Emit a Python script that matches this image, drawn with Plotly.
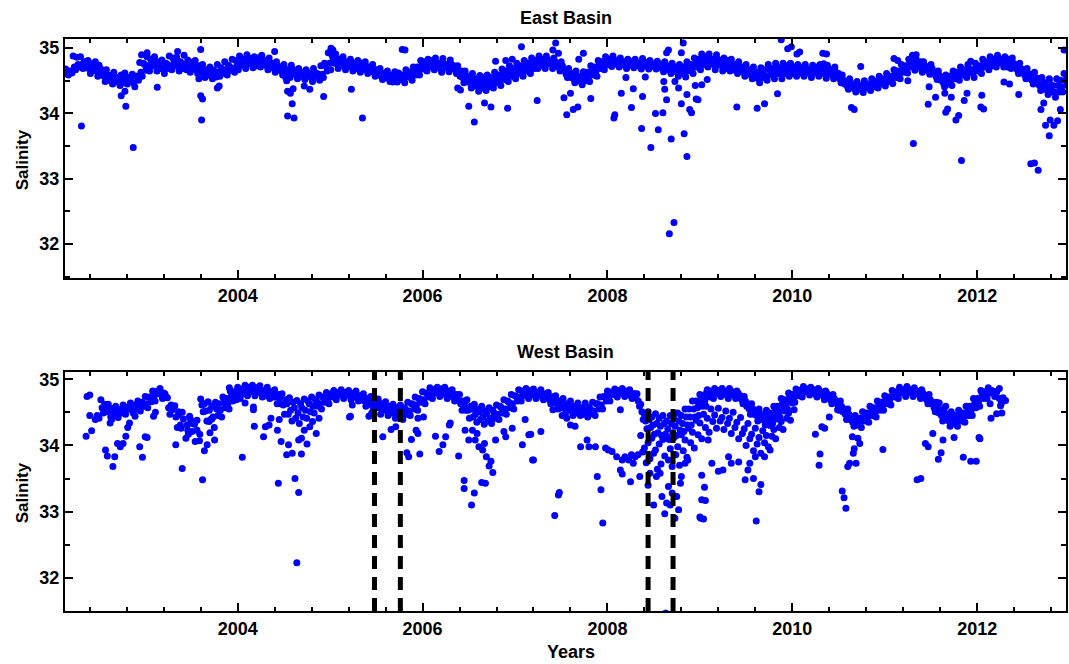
import plotly.graph_objects as go

# ---------------- DATA ----------------
# East Basin: dense band sampled every 0.04 yr (three lanes across the band)
east_step = 0.04
east_hi_t0, east_mid_t0, east_lo_t0 = 2002.14, 2002.153, 2002.167
east_hi = [
    34.68, 34.63, 34.88, 34.86,
    34.87, 34.79, 34.81, 34.76, 34.79,
    34.74, 34.66, 34.67, 34.58, 34.63,
    34.55, 34.59, 34.62, 34.55, 34.60,
    34.57, 34.78, 34.77, 34.87, 34.83, 34.87,
    34.79, 34.82, 34.77, 34.88, 34.85, 34.86, 34.79, 34.89, 34.82, 34.78,
    34.81, 34.73, 34.75, 34.67, 34.71, 34.66,
    34.75, 34.70, 34.79, 34.74, 34.83,
    34.81, 34.88, 34.83, 34.90, 34.84, 34.87, 34.85, 34.89, 34.81,
    34.85, 34.77, 34.79, 34.71,
    34.75, 34.67, 34.74, 34.65, 34.69, 34.63,
    34.67, 34.62, 34.69, 34.61, 34.73,
    34.77, 34.93, 34.89, 34.91, 34.83, 34.87,
    34.79, 34.83, 34.77, 34.81, 34.77, 34.79, 34.71, 34.75, 34.67, 34.69,
    34.61, 34.65, 34.58, 34.64, 34.62, 34.59, 34.67, 34.63, 34.71,
    34.71, 34.81, 34.79, 34.83, 34.81, 34.85, 34.77, 34.84, 34.75, 34.82, 34.73,
    34.73, 34.65, 34.65, 34.57, 34.61, 34.53, 34.58, 34.55, 34.59, 34.55,
    34.63, 34.59, 34.68, 34.65, 34.73, 34.69, 34.77, 34.73, 34.81, 34.77, 34.85,
    34.81, 34.88, 34.83, 34.88, 34.81, 34.85, 34.77, 34.79,
    34.67, 34.69, 34.61, 34.65, 34.57, 34.64, 34.63,
    34.73, 34.71, 34.81, 34.79, 34.87, 34.83, 34.88,
    34.81, 34.85, 34.79, 34.83, 34.79, 34.83, 34.77, 34.84, 34.78, 34.81, 34.76, 34.80, 34.75, 34.79, 34.73,
    34.77, 34.71, 34.75, 34.71, 34.79, 34.75, 34.85, 34.83,
    34.91, 34.87, 34.91, 34.83, 34.90, 34.81, 34.85, 34.81, 34.83,
    34.75, 34.79, 34.71, 34.75, 34.67, 34.71, 34.63, 34.70, 34.67,
    34.75, 34.69, 34.77, 34.70, 34.77, 34.73, 34.77,
    34.71, 34.75, 34.70, 34.75, 34.67, 34.74, 34.71, 34.75, 34.68, 34.74, 34.67, 34.71, 34.61,
    34.59, 34.49, 34.53, 34.45, 34.49, 34.43, 34.50, 34.45, 34.53,
    34.49, 34.57, 34.53, 34.61, 34.57, 34.67, 34.65, 34.75, 34.73,
    34.83, 34.79, 34.83, 34.75, 34.79, 34.71, 34.75, 34.63,
    34.65, 34.55, 34.59, 34.57, 34.65, 34.63, 34.71,
    34.67, 34.75, 34.67, 34.77, 34.73, 34.83, 34.79,
    34.87, 34.83, 34.89, 34.83, 34.87, 34.83, 34.85, 34.75, 34.77,
    34.67, 34.69, 34.59, 34.63, 34.53, 34.55, 34.47, 34.51, 34.43,
    34.53, 34.51, 34.61, 34.53,
]
east_mid = [
    34.61, 34.65, 34.71, 34.75,
    34.75, 34.77, 34.69, 34.73, 34.65,
    34.69, 34.57, 34.59, 34.51, 34.55,
    34.49, 34.53, 34.51, 34.55, 34.47,
    34.57, 34.63, 34.75, 34.73, 34.80, 34.73,
    34.77, 34.69, 34.76, 34.73, 34.80, 34.73, 34.77, 34.75, 34.71, 34.77,
    34.67, 34.71, 34.61, 34.65, 34.59, 34.62,
    34.63, 34.68, 34.65, 34.72, 34.69,
    34.73, 34.80, 34.75, 34.82, 34.76, 34.79, 34.77, 34.81, 34.73,
    34.77, 34.69, 34.73, 34.65,
    34.68, 34.61, 34.68, 34.59, 34.63, 34.57,
    34.62, 34.57, 34.63, 34.56, 34.60,
    34.73, 34.77, 34.84, 34.77, 34.81, 34.73,
    34.78, 34.71, 34.75, 34.69, 34.76, 34.67, 34.71, 34.63, 34.66, 34.57,
    34.60, 34.54, 34.57, 34.53, 34.57, 34.53, 34.60, 34.57, 34.65,
    34.65, 34.74, 34.71, 34.77, 34.73, 34.77, 34.69, 34.76, 34.70, 34.75, 34.67,
    34.65, 34.55, 34.57, 34.47, 34.51, 34.43, 34.48, 34.45, 34.49, 34.47,
    34.55, 34.51, 34.60, 34.57, 34.65, 34.61, 34.69, 34.65, 34.73, 34.69, 34.77,
    34.75, 34.80, 34.75, 34.82, 34.75, 34.79, 34.71, 34.73,
    34.60, 34.61, 34.53, 34.57, 34.49, 34.56, 34.55,
    34.65, 34.63, 34.75, 34.73, 34.80, 34.77, 34.82,
    34.75, 34.79, 34.73, 34.78, 34.74, 34.78, 34.72, 34.79, 34.72, 34.76, 34.72, 34.75, 34.69, 34.73, 34.67,
    34.71, 34.63, 34.67, 34.62, 34.71, 34.67, 34.77, 34.75,
    34.83, 34.79, 34.84, 34.75, 34.83, 34.73, 34.77, 34.73, 34.75,
    34.67, 34.71, 34.63, 34.67, 34.59, 34.61, 34.53, 34.61, 34.57,
    34.67, 34.61, 34.69, 34.61, 34.69, 34.65, 34.69,
    34.63, 34.68, 34.63, 34.69, 34.61, 34.68, 34.63, 34.69, 34.60, 34.67, 34.59, 34.63, 34.53,
    34.51, 34.42, 34.46, 34.38, 34.43, 34.37, 34.45, 34.40, 34.47,
    34.43, 34.51, 34.47, 34.55, 34.51, 34.61, 34.59, 34.69, 34.67,
    34.77, 34.72, 34.77, 34.69, 34.73, 34.65, 34.69, 34.57,
    34.58, 34.47, 34.51, 34.49, 34.59, 34.57, 34.65,
    34.61, 34.69, 34.61, 34.71, 34.67, 34.77, 34.73,
    34.81, 34.77, 34.84, 34.77, 34.79, 34.75, 34.77, 34.67, 34.69,
    34.59, 34.61, 34.51, 34.55, 34.43, 34.45, 34.37, 34.41, 34.33,
    34.43, 34.41, 34.51, 34.43,
]
east_lo = [
    34.59, 34.62, 34.67, 34.71,
    34.69, 34.70, 34.61, 34.66, 34.57,
    34.63, 34.49, 34.51, 34.45, 34.49,
    34.43, 34.47, 34.45, 34.49, 34.41,
    34.51, 34.57, 34.66, 34.65, 34.73, 34.65,
    34.69, 34.61, 34.69, 34.67, 34.73, 34.65, 34.69, 34.67, 34.63, 34.71,
    34.61, 34.63, 34.55, 34.59, 34.53, 34.56,
    34.57, 34.62, 34.59, 34.66, 34.63,
    34.67, 34.74, 34.69, 34.76, 34.70, 34.73, 34.71, 34.75, 34.67,
    34.71, 34.63, 34.67, 34.59,
    34.62, 34.55, 34.62, 34.53, 34.57, 34.52,
    34.57, 34.51, 34.58, 34.51, 34.55,
    34.65, 34.67, 34.77, 34.69, 34.74, 34.67,
    34.72, 34.65, 34.69, 34.63, 34.70, 34.61, 34.65, 34.57, 34.60, 34.52,
    34.55, 34.49, 34.52, 34.48, 34.52, 34.47, 34.56, 34.51, 34.59,
    34.59, 34.68, 34.65, 34.71, 34.67, 34.71, 34.63, 34.70, 34.64, 34.69, 34.61,
    34.57, 34.47, 34.49, 34.39, 34.42, 34.34, 34.39, 34.35, 34.41, 34.39,
    34.47, 34.43, 34.52, 34.49, 34.57, 34.53, 34.61, 34.57, 34.65, 34.61, 34.69,
    34.69, 34.74, 34.69, 34.76, 34.69, 34.73, 34.65, 34.67,
    34.55, 34.55, 34.47, 34.51, 34.44, 34.50, 34.49,
    34.59, 34.57, 34.69, 34.67, 34.75, 34.72, 34.77,
    34.71, 34.75, 34.69, 34.74, 34.70, 34.74, 34.68, 34.75, 34.68, 34.72, 34.68, 34.71, 34.64, 34.67, 34.61,
    34.65, 34.57, 34.61, 34.56, 34.65, 34.61, 34.71, 34.67,
    34.75, 34.71, 34.76, 34.67, 34.75, 34.65, 34.69, 34.65, 34.67,
    34.61, 34.65, 34.57, 34.61, 34.53, 34.55, 34.47, 34.55, 34.51,
    34.59, 34.53, 34.61, 34.53, 34.61, 34.57, 34.61,
    34.57, 34.62, 34.57, 34.63, 34.55, 34.62, 34.57, 34.63, 34.54, 34.61, 34.53, 34.57, 34.47,
    34.45, 34.37, 34.41, 34.33, 34.37, 34.32, 34.39, 34.35, 34.41,
    34.39, 34.45, 34.42, 34.49, 34.46, 34.55, 34.53, 34.63, 34.62,
    34.71, 34.66, 34.71, 34.63, 34.67, 34.60, 34.63, 34.52,
    34.51, 34.41, 34.45, 34.43, 34.53, 34.51, 34.59,
    34.55, 34.63, 34.55, 34.65, 34.61, 34.71, 34.67,
    34.73, 34.71, 34.78, 34.71, 34.71, 34.69, 34.71, 34.61, 34.63,
    34.53, 34.54, 34.45, 34.47, 34.35, 34.37, 34.29, 34.33, 34.25,
    34.33, 34.33, 34.43, 34.35,
]
# East Basin scattered points (year, salinity)
east_out_year = [
    2002.31, 2002.74, 2002.79, 2002.78, 2002.87, 2002.83, 2003.13, 2002.96, 2003.02, 2003.35,
    2003.58, 2003.60, 2003.62, 2003.61, 2003.60, 2003.78, 2003.80, 2004.40, 2004.52, 2004.53,
    2004.54, 2004.59, 2004.61, 2004.54, 2004.57, 2004.60, 2004.72, 2004.78, 2004.81, 2004.93,
    2005.01, 2005.03, 2005.23, 2005.35, 2005.78, 2005.81, 2005.68, 2006.38, 2006.41, 2006.50,
    2006.56, 2006.67, 2006.74, 2006.92, 2006.79, 2006.90, 2006.97, 2007.07, 2007.24, 2007.44,
    2007.41, 2007.47, 2007.53, 2007.56, 2007.60, 2007.63, 2007.68, 2007.69, 2007.74, 2007.82,
    2008.07, 2008.08, 2008.15, 2008.20, 2008.26, 2008.28, 2008.37, 2008.38, 2008.41, 2008.47,
    2008.52, 2008.55, 2008.60, 2008.62, 2008.64, 2008.67, 2008.72, 2008.69, 2008.83, 2008.86,
    2008.80, 2008.77, 2008.89, 2008.91, 2008.66, 2008.64, 2008.82, 2008.80, 2008.96, 2008.95,
    2008.61, 2008.73, 2008.86, 2009.02, 2008.98, 2009.08, 2009.40, 2009.62, 2009.70, 2009.84,
    2009.88, 2009.95, 2009.99, 2010.05, 2010.08, 2010.33, 2010.37, 2010.34, 2010.64, 2010.67,
    2010.74, 2011.10, 2011.14, 2011.30, 2011.34, 2011.39, 2011.31, 2011.25, 2011.47, 2011.48,
    2011.55, 2011.65, 2011.66, 2011.68, 2011.72, 2011.77, 2011.80, 2011.83, 2011.86, 2011.89,
    2011.93, 2012.04, 2012.07, 2012.05, 2012.29, 2012.35, 2012.45, 2012.53, 2012.58, 2012.62,
    2012.66, 2012.69, 2012.72, 2012.74, 2012.79, 2012.78, 2012.83, 2012.87, 2012.90, 2012.90,
    2012.94, 2012.78,
]
east_out_sal = [
    33.81, 34.27, 34.11, 34.34, 33.48, 34.48, 34.40, 34.90, 34.93, 34.95,
    34.53, 34.27, 34.22, 33.90, 34.98, 34.39, 34.42, 34.95, 34.55, 34.50,
    33.96, 34.15, 33.93, 34.34, 34.31, 34.38, 34.42, 34.37, 34.49, 34.26,
    35.00, 34.97, 34.37, 33.93, 34.98, 34.97, 34.48, 34.39, 34.36, 34.11,
    33.87, 34.16, 34.10, 34.08, 34.80, 34.81, 34.83, 35.02, 34.20, 35.08,
    34.97, 34.92, 34.24, 33.98, 34.31, 34.06, 34.10, 34.83, 34.92, 34.23,
    33.93, 33.98, 34.31, 34.55, 34.09, 34.38, 33.77, 34.26, 34.56, 33.48,
    34.00, 33.75, 34.01, 34.37, 34.21, 32.16, 32.33, 33.61, 33.69, 33.34,
    34.15, 34.39, 34.06, 34.01, 34.97, 34.93, 35.08, 34.93, 34.22, 34.43,
    34.49, 34.49, 34.29, 34.44, 34.21, 34.52, 34.10, 34.08, 34.15, 34.30,
    35.13, 34.99, 35.02, 34.91, 34.94, 34.92, 34.91, 34.76, 34.09, 34.06,
    34.72, 34.84, 34.81, 34.89, 34.90, 34.79, 33.54, 34.50, 34.14, 34.41,
    34.25, 34.31, 34.02, 34.07, 34.25, 33.90, 33.97, 33.28, 34.20, 34.31,
    34.80, 34.10, 34.07, 34.28, 34.48, 34.45, 34.29, 34.66, 33.23, 33.24,
    33.13, 34.06, 34.16, 33.82, 33.90, 33.66, 33.82, 33.89, 34.06, 34.34,
    34.97, 34.53,
]

# West Basin: band sampled every 0.04 yr (None = no sample there)
west_step = 0.04
west_hi_t0, west_mid_t0, west_lo_t0 = 2002.52, 2002.533, 2002.547
west_hi = [
    34.69, 34.62, 34.62, 34.55, 34.59, 34.54,
    34.61, 34.57, 34.64, 34.60, 34.67, 34.65,
    34.74, 34.73, 34.82, 34.81, 34.86, 34.79,
    34.72, 34.61, 34.60, 34.51, 34.50, None, 34.44, None, 34.38,
    34.70, 34.63, 34.66, 34.59,
    34.65, 34.63, 34.73, 34.71, 34.82, 34.81,
    34.88, 34.85, 34.91, 34.88, 34.91, 34.87, 34.90, 34.83,
    34.88, 34.81, 34.84,
    34.77, 34.78, 34.69, 34.72, 34.65, 34.68,
    34.63, 34.70, 34.67, 34.73, 34.69, 34.76, 34.73, 34.80,
    34.77, 34.83, 34.80, 34.84, 34.80, 34.83, 34.78, 34.82,
    34.75, 34.78, 34.71,
    34.74, 34.67, 34.70, 34.63, 34.66, 34.59, 34.62, 34.57,
    34.61, 34.57, 34.65, 34.63, 34.73, 34.71,
    34.81, 34.79, 34.87, 34.84, 34.88, 34.85, 34.88, 34.82, 34.84, 34.77,
    34.77, 34.67, 34.69, 34.59, 34.62, 34.55, 34.59, 34.52, 34.57, 34.53, 34.61,
    34.59, 34.69, 34.67, 34.77, 34.75, 34.84, 34.82,
    34.86, 34.82, 34.85, 34.80, 34.84, 34.77, 34.80, 34.73,
    34.75, 34.67, 34.71, 34.63, 34.67, 34.59, 34.64,
    34.57, 34.64, 34.58, 34.65, 34.63, 34.73, 34.74,
    34.82, 34.80, 34.85, 34.82, 34.86, 34.81, 34.84, 34.78, 34.78,
    34.62, 34.47, 34.51, 34.43, 34.48, 34.41, 34.45, 34.37, 34.45, 34.41, 34.49,
    34.45, 34.55, 34.55, 34.67, 34.67,
    34.77, 34.75, 34.84, 34.82,
    34.86, 34.83, 34.86, 34.81, 34.86, 34.79, 34.82, 34.75,
    34.74, 34.63, 34.63, 34.53, 34.55, 34.47, 34.53, 34.49,
    34.59, 34.59, 34.71, 34.69, 34.79, 34.77,
    34.85, 34.83, 34.89, 34.85, 34.88, 34.82, 34.86, 34.79, 34.82,
    34.75, 34.77, 34.67, 34.67, 34.55, 34.55, 34.43, 34.45,
    34.41, 34.51, 34.49, 34.59, 34.57, 34.67, 34.65, 34.75, 34.73,
    34.83, 34.81, 34.88, 34.84, 34.89, 34.83, 34.87, 34.81, 34.84, 34.75,
    34.77, 34.65, 34.65, 34.53, 34.55, 34.47, 34.51, 34.45, 34.53,
    34.49, 34.59, 34.59, 34.71, 34.71, 34.83, 34.81,
    34.87, 34.83, None, 34.86, 34.72,
]
west_mid = [
    34.57, 34.58, 34.51, 34.55, 34.47, 34.53,
    34.51, 34.58, 34.55, 34.61, 34.57, 34.64,
    34.63, 34.72, 34.73, 34.82, 34.77, 34.78,
    34.57, 34.54, 34.43, None, 34.40, 34.31, None, 34.32, None,
    34.61, 34.52, 34.53, 34.43,
    34.55, 34.53, 34.65, 34.63, 34.75, 34.75,
    34.78, 34.84, 34.81, 34.87, 34.81, 34.86, 34.79, 34.82,
    34.77, 34.80, 34.73,
    34.72, 34.61, 34.63, 34.53, 34.57, 34.49,
    34.57, 34.53, 34.63, 34.59, 34.67, 34.63, 34.72, 34.69,
    34.78, 34.75, 34.80, 34.76, 34.80, 34.75, 34.78, 34.73,
    34.74, 34.67, 34.70,
    34.63, 34.64, 34.57, 34.60, 34.53, 34.56, 34.49, 34.55,
    34.47, 34.55, 34.52, 34.62, 34.61, 34.70,
    34.69, 34.78, 34.77, 34.84, 34.79, 34.84, 34.77, 34.80, 34.73, 34.76,
    34.63, 34.62, 34.53, 34.55, 34.47, 34.51, 34.43, 34.48, 34.41, 34.49, 34.47,
    34.57, 34.55, 34.65, 34.63, 34.74, 34.73, 34.80,
    34.77, 34.82, 34.76, 34.80, 34.75, 34.78, 34.69, 34.73,
    34.63, 34.65, 34.57, 34.61, 34.53, 34.57, 34.52,
    34.55, 34.51, 34.55, 34.52, 34.63, 34.61, 34.73,
    34.73, 34.81, 34.77, 34.83, 34.78, 34.82, 34.75, 34.78, 34.67,
    34.51, 34.37, 34.39, 34.31, 34.33, 34.29, 34.33, 34.25, 34.33, 34.29, 34.37,
    34.33, 34.43, 34.43, 34.55, 34.57,
    34.69, 34.67, 34.79, 34.77,
    34.82, 34.78, 34.83, 34.76, 34.83, 34.75, 34.79, 34.69,
    34.67, 34.55, 34.55, 34.45, 34.48, 34.39, 34.45, 34.41,
    34.51, 34.51, 34.63, 34.63, 34.73, 34.71,
    34.81, 34.79, 34.86, 34.81, 34.85, 34.77, 34.83, 34.75, 34.79,
    34.69, 34.71, 34.61, 34.59, 34.47, 34.47, 34.35, 34.37,
    34.33, 34.43, 34.41, 34.51, 34.49, 34.59, 34.59, 34.69, 34.67,
    34.79, 34.77, 34.84, 34.79, 34.85, 34.79, 34.83, 34.77, 34.79, 34.69,
    34.69, 34.57, 34.57, 34.45, 34.47, 34.37, 34.41, 34.37, 34.45,
    34.41, 34.51, 34.52, 34.63, 34.65, 34.77, 34.77,
    34.83, None, 34.81, 34.60, None,
]
west_lo = [
    34.49, 34.51, 34.43, 34.47, 34.42, 34.49,
    34.47, 34.55, 34.51, 34.55, 34.52, 34.59,
    34.57, 34.66, 34.67, 34.78, 34.71, 34.73,
    34.47, None, 34.27, 34.26, None, 34.17, 34.21, None, 34.07,
    34.51, 34.37, 34.39, 34.27,
    34.45, 34.43, 34.57, 34.55, 34.67, 34.69,
    34.71, 34.78, 34.75, 34.82, 34.75, 34.80, 34.73, 34.75,
    34.71, 34.73, 34.63,
    34.63, 34.47, 34.47, 34.37, 34.41, 34.33,
    34.43, 34.41, 34.51, 34.49, 34.59, 34.55, 34.65, 34.63,
    34.73, 34.69, 34.76, 34.71, 34.77, 34.69, 34.73, 34.67,
    34.69, 34.59, 34.62,
    34.55, 34.57, 34.47, 34.53, 34.45, 34.49, 34.41, 34.48,
    34.39, 34.47, 34.45, 34.55, 34.53, 34.65,
    34.63, 34.73, 34.71, 34.79, 34.74, 34.79, 34.71, 34.75, 34.67, 34.69,
    34.53, 34.53, 34.41, 34.43, 34.35, 34.39, 34.32, 34.37, 34.33, 34.41, 34.39,
    34.49, 34.47, 34.57, 34.55, 34.67, 34.67, 34.75,
    34.71, 34.77, 34.71, 34.75, 34.69, 34.73, 34.63, 34.65,
    34.55, 34.57, 34.49, 34.53, 34.45, 34.49, 34.45,
    34.47, 34.43, 34.48, 34.45, 34.55, 34.55, 34.67,
    34.67, 34.77, 34.73, 34.79, 34.74, 34.79, 34.71, 34.73, 34.59,
    34.39, 34.25, 34.27, 34.17, 34.19, 34.15, 34.17, 34.09, 34.19, 34.15, 34.23,
    34.21, 34.31, 34.31, 34.43, 34.45,
    34.59, 34.59, 34.73, 34.71,
    34.78, 34.74, 34.79, 34.71, 34.79, 34.71, 34.73, 34.63,
    34.59, 34.47, 34.47, 34.37, 34.39, 34.31, 34.37, 34.33,
    34.43, 34.43, 34.55, 34.55, 34.67, 34.65,
    34.75, 34.73, 34.81, 34.76, 34.81, 34.73, 34.79, 34.69, 34.73,
    34.63, 34.65, 34.53, 34.51, 34.39, 34.39, 34.29, 34.31,
    34.27, 34.37, 34.35, 34.45, 34.43, 34.53, 34.53, 34.63, 34.61,
    34.73, 34.71, 34.79, 34.74, 34.81, 34.74, 34.79, 34.71, 34.73, 34.63,
    34.63, 34.51, 34.49, 34.37, 34.39, 34.29, 34.33, 34.29, 34.37,
    34.35, 34.45, 34.45, 34.57, 34.59, 34.71, 34.71,
    34.79, None, None, 34.49, 34.68,
]
# West Basin low-salinity cloud, 2008.36 - 2010.0 (two lanes)
cloud_step = 0.04
cloud_a_t0, cloud_b_t0 = 2008.36, 2008.38
cloud_a = [
    34.15, 33.96, 34.04, 34.11, 33.93, 34.02, 34.09, 34.14, 33.95, 34.12, 33.98,
    34.16, 34.08, 34.26, 34.20, 34.38,
    34.34, 34.47, 34.41, 34.55,
    34.46, 34.56, 34.42, 34.52, 34.41, 34.50, 34.35, 34.42,
    34.25, 34.33, 34.17, 34.26, 34.12, 34.22, 34.15, 34.30,
    34.24, 34.40, 34.36, 34.52, 34.49, 34.64,
]
cloud_b = [
    33.90, 33.74, 33.80, 33.88, 33.64, 33.72, 33.84, 33.78, 33.68, 33.86, 33.70,
    33.92, 33.82, 34.04, 33.96, 34.16,
    34.10, 34.27, 34.20, 34.36,
    34.26, 34.37, 34.24, 34.33, 34.18, 34.27, 34.10, 34.18,
    34.00, 34.10, 33.92, 34.02, 33.88, 34.04, 33.98, 34.14,
    34.10, 34.27, 34.24, 34.41, 34.38, 34.54,
]
# West Basin scattered points (year, salinity)
west_out_year = [
    2002.36, 2002.37, 2002.40, 2002.40, 2002.42, 2002.46, 2002.48, 2002.50, 2002.57, 2002.59,
    2002.65, 2002.67, 2002.62, 2002.64, 2002.70, 2002.73, 2002.76, 2002.79, 2002.81, 2002.83,
    2002.87, 2002.89, 2002.94, 2002.97, 2003.00, 2003.02, 2003.09, 2003.11, 2003.33, 2003.36,
    2003.38, 2003.40, 2003.44, 2003.46, 2003.49, 2003.51, 2003.54, 2003.56, 2003.59, 2003.62,
    2003.64, 2003.67, 2003.69, 2003.72, 2003.70, 2003.75, 2003.91, 2004.05, 2004.08, 2004.17,
    2004.17, 2004.18, 2004.28, 2004.30, 2004.34, 2004.36, 2004.43, 2004.45, 2004.47, 2004.44,
    2004.53, 2004.55, 2004.59, 2004.62, 2004.64, 2004.66, 2004.66, 2004.69, 2004.69, 2004.75,
    2004.72, 2004.78, 2004.81, 2004.85, 2004.88, 2005.21, 2005.24, 2005.22, 2005.42, 2005.45,
    2005.57, 2005.66, 2005.71, 2005.83, 2005.85, 2005.88, 2005.93, 2005.95, 2005.97, 2005.95,
    2006.01, 2006.14, 2006.18, 2006.22, 2006.25, 2006.29, 2006.30, 2006.39, 2006.45, 2006.45,
    2006.53, 2006.56, 2006.46, 2006.50, 2006.57, 2006.61, 2006.65, 2006.67, 2006.69, 2006.72,
    2006.74, 2006.76, 2006.64, 2006.68, 2006.79, 2006.54, 2006.59, 2006.88, 2006.90, 2006.97,
    2007.08, 2007.11, 2007.15, 2007.17, 2007.19, 2007.20, 2007.28, 2007.43, 2007.47, 2007.48,
    2007.41, 2007.51, 2007.56, 2007.60, 2007.65, 2007.71, 2007.78, 2007.80, 2007.87, 2007.89,
    2007.93, 2007.95, 2007.98, 2008.01, 2008.05, 2008.10, 2008.14, 2008.16, 2008.19, 2008.25,
    2008.28, 2008.30, 2008.33, 2008.35, 2008.14, 2008.16, 2008.23, 2008.26, 2008.44, 2008.50,
    2008.59, 2008.62, 2008.64, 2008.68, 2008.73, 2008.77, 2008.63, 2008.46, 2008.53, 2008.57,
    2008.66, 2008.70, 2008.75, 2008.79, 2008.80, 2008.84, 2008.87, 2009.02, 2009.01, 2008.98,
    2009.07, 2009.02, 2009.05, 2009.06, 2009.00, 2009.04, 2009.13, 2009.20, 2009.25, 2009.49,
    2009.52, 2009.58, 2009.61, 2009.64, 2009.66, 2009.54, 2009.60, 2009.70, 2009.76, 2009.34,
    2009.42, 2009.31, 2009.09, 2010.25, 2010.30, 2010.29, 2010.32, 2010.35, 2010.54, 2010.56,
    2010.58, 2010.60, 2010.62, 2010.66, 2010.67, 2010.65, 2010.69, 2010.71, 2010.73, 2010.98,
    2011.35, 2011.39, 2011.44, 2011.47, 2011.52, 2011.58, 2011.61, 2011.63, 2011.75, 2011.85,
    2011.93, 2011.99, 2012.02, 2012.03, 2012.15, 2012.14, 2012.19, 2012.20, 2012.24, 2012.26,
    2012.21, 2011.59, 2011.66, 2010.40, 2010.49,
]
west_out_sal = [
    34.14, 34.74, 34.76, 34.45, 34.22, 34.39, 34.45, 34.41, 33.93, 33.84,
    33.68, 33.83, 34.34, 34.40, 34.03, 33.98, 34.03, 34.14, 34.27, 34.34,
    34.49, 34.44, 33.98, 33.82, 34.13, 34.12, 34.44, 34.50, 34.01, 34.46,
    34.31, 33.65, 34.11, 34.23, 34.39, 34.33, 34.06, 34.23, 34.17, 33.48,
    33.92, 34.01, 34.36, 34.40, 34.19, 34.08, 34.87, 33.82, 34.64, 34.58,
    34.54, 34.29, 34.13, 34.28, 34.31, 34.41, 34.23, 34.39, 34.06, 33.43,
    33.86, 34.01, 33.88, 33.50, 32.23, 33.29, 34.08, 34.11, 33.87, 34.02,
    34.23, 34.28, 34.36, 34.18, 34.41, 34.43, 34.61, 34.44, 34.44, 34.49,
    34.13, 34.24, 34.28, 33.89, 33.83, 34.09, 34.23, 34.18, 33.87, 34.41,
    34.43, 34.14, 33.91, 34.01, 34.13, 34.31, 34.34, 33.84, 33.47, 33.35,
    33.10, 33.28, 34.23, 34.08, 34.08, 33.98, 33.93, 34.03, 33.83, 33.69,
    33.76, 33.59, 33.44, 33.43, 34.08, 34.23, 34.18, 34.21, 34.13, 34.26,
    34.01, 34.39, 34.16, 34.17, 33.78, 33.78, 34.21, 32.94, 33.25, 33.29,
    34.54, 34.45, 34.41, 34.31, 34.29, 33.98, 34.08, 33.98, 33.98, 33.53,
    33.33, 32.83, 33.96, 33.93, 33.91, 33.83, 33.63, 33.57, 33.83, 33.45,
    33.73, 33.83, 33.86, 33.53, 34.54, 33.78, 33.78, 33.86, 33.40, 33.10,
    33.23, 32.97, 33.13, 33.10, 32.90, 33.03, 31.47, 33.58, 33.53, 33.58,
    33.38, 33.28, 33.23, 33.43, 33.53, 33.73, 33.78, 33.18, 32.90, 34.66,
    34.79, 33.55, 33.37, 33.17, 32.92, 32.89, 33.73, 33.61, 33.63, 33.48,
    33.63, 33.50, 32.86, 33.30, 33.41, 33.73, 33.83, 33.83, 33.93, 33.73,
    33.75, 33.83, 34.08, 34.17, 33.87, 33.70, 34.28, 34.26, 33.31, 33.21,
    33.05, 33.68, 33.73, 33.88, 33.95, 34.13, 33.73, 34.11, 34.03, 33.94,
    33.48, 33.50, 34.03, 33.98, 34.18, 33.79, 33.89, 34.08, 34.12, 33.82,
    33.76, 33.76, 34.12, 34.10, 34.41, 34.63, 34.74, 34.81, 34.71, 34.63,
    34.48, 34.64, 34.59, 34.43, 34.54,
]

# Event markers (dashed lines) in the West Basin panel
event_years = [2005.48, 2005.76, 2008.44, 2008.71]

x_range = [2002.132, 2012.961]
east_y_range = [31.48, 35.14]
west_y_range = [31.50, 35.11]

# ---------------- helpers ----------------
def lane_years(t0, step, values):
    return [round(t0 + step * i, 3) for i in range(len(values))]

for a, b, name in [(east_hi, east_mid, "east mid"), (east_hi, east_lo, "east lo"),
                   (west_hi, west_mid, "west mid"), (west_hi, west_lo, "west lo"),
                   (cloud_a, cloud_b, "cloud")]:
    if len(a) != len(b):
        raise ValueError(f"length mismatch {name}: {len(a)} vs {len(b)}")
if len(east_out_year) != len(east_out_sal):
    raise ValueError(f"east outliers {len(east_out_year)} vs {len(east_out_sal)}")
if len(west_out_year) != len(west_out_sal):
    raise ValueError(f"west outliers {len(west_out_year)} vs {len(west_out_sal)}")

east_x = (lane_years(east_hi_t0, east_step, east_hi) + lane_years(east_mid_t0, east_step, east_mid)
          + lane_years(east_lo_t0, east_step, east_lo) + east_out_year)
east_y = east_hi + east_mid + east_lo + east_out_sal

west_x = (lane_years(west_hi_t0, west_step, west_hi) + lane_years(west_mid_t0, west_step, west_mid)
          + lane_years(west_lo_t0, west_step, west_lo)
          + lane_years(cloud_a_t0, cloud_step, cloud_a) + lane_years(cloud_b_t0, cloud_step, cloud_b)
          + west_out_year)
west_y = west_hi + west_mid + west_lo + cloud_a + cloud_b + west_out_sal

FONT = "Liberation Sans, Arial, Helvetica, sans-serif"
BLUE = "rgb(0,0,255)"

fig = go.Figure()
marker = dict(color=BLUE, size=7, line=dict(width=0))
fig.add_trace(go.Scatter(x=east_x, y=east_y, mode="markers", marker=marker,
                         xaxis="x", yaxis="y", name="East Basin"))
fig.add_trace(go.Scatter(x=west_x, y=west_y, mode="markers", marker=marker,
                         xaxis="x2", yaxis="y2", name="West Basin"))

tickfont = dict(family=FONT, size=18, color="black", weight="bold")

def xaxis_cfg(anchor):
    return dict(anchor=anchor, domain=[0, 1], range=x_range, tick0=2004, dtick=2,
                tickformat="d", ticks="inside", ticklen=8, tickwidth=1.5, tickcolor="black",
                minor=dict(tick0=2004, dtick=0.4, ticks="inside", ticklen=4, tickwidth=1.5,
                           tickcolor="black", showgrid=False),
                showline=True, linecolor="black", linewidth=2, mirror="ticks",
                showgrid=False, zeroline=False, tickfont=tickfont)

def yaxis_cfg(anchor, domain, rng):
    return dict(anchor=anchor, domain=domain, range=rng, tick0=32, dtick=1,
                ticks="inside", ticklen=8, tickwidth=1.5, tickcolor="black",
                minor=dict(dtick=0.5, ticks="inside", ticklen=5, tickwidth=1.5,
                           tickcolor="black", showgrid=False),
                showline=True, linecolor="black", linewidth=2, mirror="ticks",
                showgrid=False, zeroline=False, tickfont=tickfont)

shapes = []
for yr in event_years:
    shapes.append(dict(type="line", xref="x2", yref="y2 domain", x0=yr, x1=yr, y0=0, y1=1,
                       line=dict(color="black", width=5, dash="13px,8px")))

ann_font = dict(family=FONT, color="black", weight="bold")
annotations = [
    dict(text="East Basin", xref="paper", yref="paper", x=0.5, y=1.0367, showarrow=False,
         xanchor="center", yanchor="middle", font=dict(size=18, **ann_font)),
    dict(text="West Basin", xref="paper", yref="paper", x=0.5, y=0.4528, showarrow=False,
         xanchor="center", yanchor="middle", font=dict(size=18, **ann_font)),
    dict(text="Years", xref="paper", yref="paper", x=0.505, y=-0.0717, showarrow=False,
         xanchor="center", yanchor="middle", font=dict(size=18, **ann_font)),
    dict(text="Salinity", xref="paper", yref="paper", x=-0.0429, y=0.788, showarrow=False,
         textangle=-90, xanchor="center", yanchor="middle", font=dict(size=17, **ann_font)),
    dict(text="Salinity", xref="paper", yref="paper", x=-0.0429, y=0.206, showarrow=False,
         textangle=-90, xanchor="center", yanchor="middle", font=dict(size=17, **ann_font)),
]

fig.update_layout(
    width=1069, height=664,
    margin=dict(l=65, r=1, t=39, b=53),
    paper_bgcolor="white", plot_bgcolor="white",
    showlegend=False,
    font=dict(family=FONT, color="black"),
    xaxis=xaxis_cfg("y"),
    yaxis=yaxis_cfg("x", [0.582, 1.0], east_y_range),
    xaxis2=xaxis_cfg("y2"),
    yaxis2=yaxis_cfg("x2", [0.0, 0.418], west_y_range),
    shapes=shapes,
    annotations=annotations,
)

fig.write_html("out.html")
